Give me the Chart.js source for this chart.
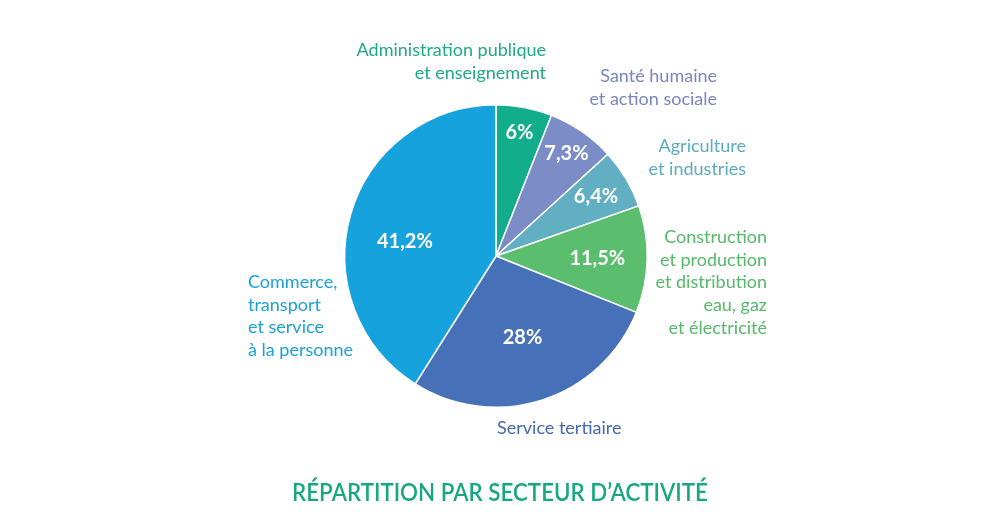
<!DOCTYPE html>
<html>
<head>
<meta charset="utf-8">
<script src="https://cdn.jsdelivr.net/npm/chart.js@4"></script>
<style>
  html, body { margin: 0; padding: 0; background: #ffffff; }
  canvas { display: block; }
</style>
</head>
<body>
<canvas id="secteurChart" width="1000" height="526"></canvas>
<script>
// ================== DATA ====================
const secteurs = [
  ["Administration publique", "et enseignement"],
  ["Santé humaine", "et action sociale"],
  ["Agriculture", "et industries"],
  ["Construction", "et production", "et distribution", "eau, gaz", "et électricité"],
  ["Service tertiaire"],
  ["Commerce,", "transport", "et service", "à la personne"]
];
const parts = [6, 7.3, 6.4, 11.5, 28, 41.2];
const partLabels = ["6%", "7,3%", "6,4%", "11,5%", "28%", "41,2%"];
const titre = "RÉPARTITION PAR SECTEUR D’ACTIVITÉ";

// ================== STYLE ====================
const sliceColors = ["#12ad8a", "#7b8cc6", "#62aec2", "#5bbd6e", "#4670b8", "#16a2dd"];
const textColors = ["#1fa987", "#7886c2", "#5aadc0", "#55b96a", "#4468b2", "#1aa2dc"];
// where the percent sits inside each slice (fraction of radius, angle shift in degrees)
const pctPlace = [[0.83, 0], [0.82, 0], [0.77, 0], [0.67, 0], [0.57, 0], [0.61, -7]];
// name labels: offset from centre in px, text alignment
const namePlace = [
  { dx: 50, dy: -206, align: "right" },
  { dx: 221, dy: -180, align: "right" },
  { dx: 250, dy: -110, align: "right" },
  { dx: 271, dy: -19, align: "right" },
  { dx: 1, dy: 172, align: "left" },
  { dx: -248, dy: 26, align: "left" }
];

const labelPlugin = {
  id: "secteurLabels",
  afterDatasetsDraw(chart) {
    const { ctx } = chart;
    const arcs = chart.getDatasetMeta(0).data;
    ctx.save();
    ctx.textBaseline = "middle";
    arcs.forEach((arc, i) => {
      const { x, y, startAngle, endAngle, outerRadius } = arc.getProps(["x", "y", "startAngle", "endAngle", "outerRadius"], true);
      const mid = (startAngle + endAngle) / 2 + pctPlace[i][1] * Math.PI / 180;
      const r = outerRadius * pctPlace[i][0];
      ctx.font = "bold 20px Lato";
      ctx.fillStyle = "#ffffff";
      ctx.textAlign = "center";
      ctx.fillText(partLabels[i], x + Math.cos(mid) * r, y + Math.sin(mid) * r);

      const p = namePlace[i];
      ctx.font = "18px Lato";
      ctx.fillStyle = textColors[i];
      ctx.textAlign = p.align;
      secteurs[i].forEach((line, j) => {
        ctx.fillText(line, x + p.dx, y + p.dy + j * 22.8);
      });
    });
    // title
    const cx = (chart.chartArea.left + chart.chartArea.right) / 2;
    ctx.font = "600 24px Lato";
    ctx.fillStyle = "#17a87f";
    ctx.textAlign = "center";
    ctx.save();
    ctx.translate(cx + 4, 493);
    ctx.scale(0.93, 1);
    ctx.fillText(titre, 0, 0);
    ctx.restore();
    ctx.restore();
  }
};

const ctx = document.getElementById("secteurChart").getContext("2d");
new Chart(ctx, {
  type: "pie",
  data: {
    labels: secteurs.map(s => s.join(" ")),
    datasets: [{
      data: parts,
      backgroundColor: sliceColors,
      borderColor: "#ffffff",
      borderWidth: 1.5
    }]
  },
  options: {
    responsive: false,
    animation: false,
    layout: { padding: { top: 104, bottom: 118, left: 0, right: 8 } },
    plugins: {
      legend: { display: false },
      tooltip: { enabled: false }
    }
  },
  plugins: [labelPlugin]
});
</script>
</body>
</html>
